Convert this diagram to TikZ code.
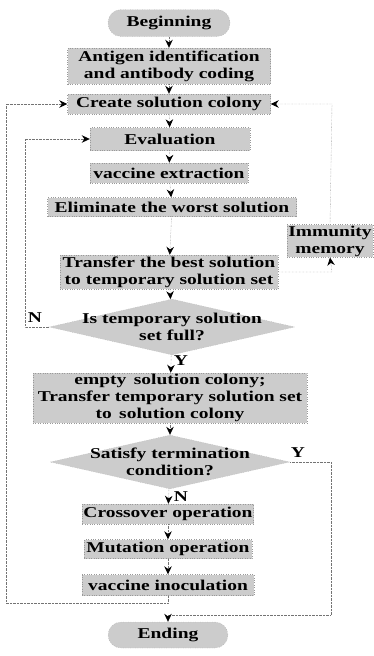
\documentclass[tikz,border=0pt]{standalone}
\usepackage{fontspec}
\setmainfont{Liberation Serif}[FakeStretch=1.3]
\usetikzlibrary{positioning, shapes.geometric, arrows.meta}

\begin{document}
\begin{tikzpicture}[x=1pt, y=-1pt,
    font=\fontsize{15}{17}\selectfont\bfseries,
    box/.style={rectangle, fill=black!20, draw=black!40, dotted, inner sep=1pt, align=center},
    term/.style={box, rounded corners=13pt},
    decision/.style={diamond, fill=black!20, draw=black!30, dotted, inner sep=0pt},
    line/.style={draw=black!55, densely dotted, thin},
    arr/.style={line, -{Stealth[length=8pt, width=7.5pt, black, line width=0.8pt, sep=0pt]}}]
    \useasboundingbox (0,0) rectangle (374,656);

    % Main column
    \node[term, minimum width=122pt, minimum height=27pt] (begin) at (169,23) {Beginning};
    \node[box, minimum width=203pt, minimum height=36pt] (antigen) at (169,66) {Antigen identification\\and antibody coding};
    \node[box, minimum width=203pt, minimum height=20pt] (create) at (169,104) {Create solution colony};
    \node[box, minimum width=160pt, minimum height=23pt] (eval) at (170,139) {Evaluation};
    \node[box, minimum width=158pt, minimum height=20pt] (extract) at (169,173) {vaccine extraction};
    \node[box, minimum width=249pt, minimum height=19pt] (elim) at (172,207) {Eliminate the worst solution};
    \node[box, minimum width=86pt, minimum height=32pt] (memory) at (330,241) {Immunity\\memory};
    \node[box, minimum width=218pt, minimum height=34pt] (best) at (169,272) {Transfer the best solution\\to temporary solution set};
    \node[decision, minimum width=246pt, minimum height=56pt,
          label={[align=center]center:Is temporary solution\\set full?}] (full) at (172,327) {};
    \node[box, minimum width=274pt, minimum height=50pt] (empty) at (170,398) {empty\, solution colony;\\Transfer temporary solution set\\to\, solution colony};
    \node[decision, minimum width=240pt, minimum height=54pt,
          label={[align=center]center:Satisfy termination\\condition?}] (stop) at (170,462) {};
    \node[box, minimum width=171pt, minimum height=20pt] (cross) at (168,514) {Crossover operation};
    \node[box, minimum width=168pt, minimum height=19pt] (mut) at (168,549) {Mutation operation};
    \node[box, minimum width=172pt, minimum height=21pt] (inoc) at (168,585) {vaccine inoculation};
    \node[term, minimum width=120pt, minimum height=26pt] (ending) at (168,635) {Ending};

    % Branch labels
    \node (n1) at (35,318) {N};
    \node (y1) at (181,361) {Y};
    \node (y2) at (298,453) {Y};
    \node (n2) at (181,497) {N};

    % Corner points
    \coordinate (m1) at (332,272);
    \coordinate (m2) at (332,104);
    \coordinate (e1) at (25,327);
    \coordinate (e2) at (25,139);
    \coordinate (c1) at (168,603);
    \coordinate (c2) at (6,603);
    \coordinate (c3) at (6,104);
    \coordinate (s1) at (331,462);
    \coordinate (s2) at (331,615);
    \coordinate (s3) at (168,615);

    % Straight flow
    \draw[arr] (begin) -- (antigen);
    \draw[arr] (antigen) -- (create);
    \draw[arr] (create) -- (eval);
    \draw[arr] (eval) -- (extract);
    \draw[arr] (extract) -- (elim);
    \draw[arr] (elim) -- (best);
    \draw[arr] (best) -- (full);
    \draw[arr] (full) -- (empty);
    \draw[arr] (empty) -- (stop);
    \draw[arr] (stop) -- (cross);
    \draw[arr] (cross) -- (mut);
    \draw[arr] (mut) -- (inoc);

    % Loops
    \draw[arr] (best.east) -- (m1) -- (memory.south);
    \draw[arr] (memory.north) -- (m2) -- (create.east);
    \draw[arr] (full.west) -- (e1) -- (e2) -- (eval.west);
    \draw[arr] (inoc.south) -- (c1) -- (c2) -- (c3) -- (create.west);
    \draw[arr] (stop.east) -- (s1) -- (s2) -- (s3) -- (ending.north);
\end{tikzpicture}
\end{document}
